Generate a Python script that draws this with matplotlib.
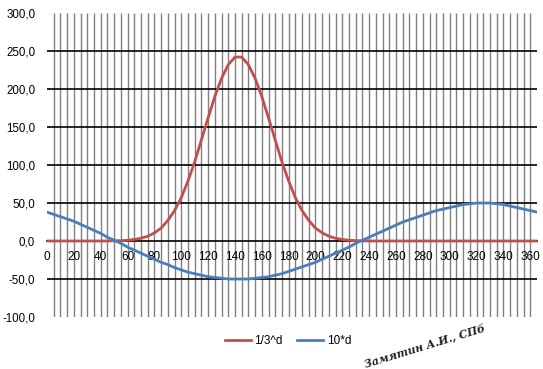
import numpy as np
import matplotlib.pyplot as plt

plt.rcParams['font.family'] = ['Liberation Sans', 'DejaVu Sans']

# x categories 0..365 step 5
x_vals = list(range(0, 370, 5))

# 1/3^d
red_vals = [0, 0, 0, 0, 0, 0, 0, 0, 0, 0,
            0.3, 0.5, 1, 2, 3.6, 6.3, 10.7, 17, 27, 40,
            57, 79, 104, 133, 162, 190, 214, 232, 242, 242,
            232, 214, 190, 162, 133, 104, 79, 57, 40, 27,
            17, 10.7, 6.3, 3.6, 2, 1, 0.5, 0.3, 0, 0,
            0, 0, 0, 0, 0, 0, 0, 0, 0, 0,
            0, 0, 0, 0, 0, 0, 0, 0, 0, 0,
            0, 0, 0, 0]

# 10*d
blue_vals = [38, 35, 32, 29, 26, 22, 18, 14, 10, 5,
             1, -3, -8, -12, -16, -20, -24, -28, -31, -35,
             -38, -41, -43, -45, -47, -48, -49, -50, -50, -50,
             -50, -49, -48, -47, -45, -43, -40, -37, -34, -31,
             -28, -24, -20, -16, -12, -8, -3, 1, 5, 9,
             13, 17, 21, 25, 28, 31, 34, 37, 40, 42,
             44, 46, 48, 49, 50, 50, 50, 49, 48, 46,
             44, 42, 40, 38]

x_labels = list(range(0, 361, 20))
y_ticks = [-100, -50, 0, 50, 100, 150, 200, 250, 300]

fig = plt.figure(figsize=(5.43, 3.69), dpi=100)
ax = fig.add_axes([47/543, 1-317/369, 490/543, 304/369])

ax.set_xlim(0, 365)
ax.set_ylim(-100, 300)

# grid lines
ax.vlines(list(range(5, 365, 5)), -100, 300, color='#808080', lw=1.0, zorder=1)
for yv in y_ticks[1:-1]:
    if yv != 0:
        ax.axhline(yv, color='black', lw=1.2, zorder=2)

p1, = ax.plot(x_vals, red_vals, color='#C0504D', lw=2.0, zorder=4)
p2, = ax.plot(x_vals, blue_vals, color='#4A7EBB', lw=2.0, zorder=4)

for s in ['top', 'right', 'left']:
    ax.spines[s].set_visible(False)
ax.spines['bottom'].set_position(('data', 0))
ax.spines['bottom'].set_color('black')
ax.spines['bottom'].set_linewidth(1.2)
ax.spines['bottom'].set_zorder(3)

ax.set_xticks(x_labels)
ax.set_xticklabels([str(v) for v in x_labels])
ax.set_yticks(y_ticks)
ax.set_yticklabels([f'{v:.1f}'.replace('.', ',') for v in y_ticks])
ax.tick_params(axis='x', length=0, pad=7, labelsize=8.5)
ax.tick_params(axis='y', length=0, pad=8.5, labelsize=8.3)

fig.legend([p1, p2], ['1/3^d', '10*d'], ncol=2, loc='center',
           bbox_to_anchor=(288/543, 1-341/369), frameon=False,
           fontsize=8.5, handlelength=2.2, columnspacing=1.2, handletextpad=0.3)

fig.text(425/543, 1-346/369, 'Замятин А.И., СПб', rotation=17,
         ha='center', va='center', fontsize=7.8, style='italic',
         fontweight='bold', family='DejaVu Serif', color='#222222')

fig.savefig('out.png', dpi=100)
